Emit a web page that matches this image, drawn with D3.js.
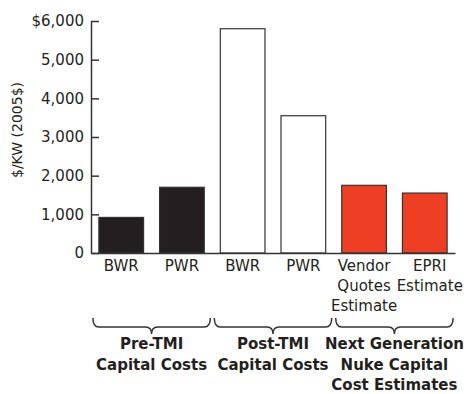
<!DOCTYPE html>
<html>
<head>
<meta charset="utf-8">
<script src="https://cdn.jsdelivr.net/npm/d3@7"></script>
<style>
  html, body { margin: 0; padding: 0; background: #fff; }
  svg { display: block; }
  text { font-family: "DejaVu Sans", "Liberation Sans", sans-serif; fill: #231f20; }
</style>
</head>
<body>
<svg id="chart" width="466" height="394"></svg>
<script>
// ---- data ----
const categories = ["Pre-TMI BWR", "Pre-TMI PWR", "Post-TMI BWR", "Post-TMI PWR", "Vendor Quotes Estimate", "EPRI Estimate"];
const categoryLabels = [["BWR"], ["PWR"], ["BWR"], ["PWR"], ["Vendor", "Quotes", "Estimate"], ["EPRI", "Estimate"]];
const values = [920, 1700, 5800, 3550, 1750, 1550];
const barGroup = [0, 0, 1, 1, 2, 2];
const groupLabels = [["Pre-TMI", "Capital Costs"], ["Post-TMI", "Capital Costs"], ["Next Generation", "Nuke Capital", "Cost Estimates"]];
const tickValues = [0, 1000, 2000, 3000, 4000, 5000, 6000];
const yTitle = "$/KW (2005$)";

// ---- styles ----
const groupFill = ["#231f20", "#ffffff", "#ee3e23"];
const ink = "#333333";

const svg = d3.select("#chart");
const plotLeft = 91, plotRight = 455, plotTop = 21, plotBase = 253;

const x = d3.scaleBand().domain(categories).range([plotLeft, plotRight]).paddingInner(0.264).paddingOuter(0.13);
const y = d3.scaleLinear().domain([0, 6000]).range([plotBase, plotTop]);

// bars
svg.append("g").selectAll("rect").data(values).join("rect")
  .attr("x", (d, i) => x(categories[i]))
  .attr("y", d => y(d))
  .attr("width", x.bandwidth())
  .attr("height", d => y(0) - y(d))
  .attr("fill", (d, i) => groupFill[barGroup[i]])
  .attr("stroke", ink)
  .attr("stroke-width", 1.2);

// y axis
const yAxis = d3.axisLeft(y).tickValues(tickValues).tickSizeInner(-8).tickSizeOuter(0).tickPadding(7)
  .tickFormat(d => d === 6000 ? "$" + d3.format(",")(d) : d3.format(",")(d));
const gy = svg.append("g").attr("transform", `translate(${plotLeft},0)`).call(yAxis);
gy.attr("font-family", null).attr("font-size", null);
gy.selectAll("path, line").attr("stroke", ink).attr("stroke-width", 1.5);
gy.selectAll("text").attr("font-size", 15).attr("fill", "#231f20");

// x axis baseline
const xAxis = d3.axisBottom(x).tickSize(0).tickSizeOuter(0).tickFormat("");
const gx = svg.append("g").attr("transform", `translate(0,${plotBase})`).call(xAxis);
gx.selectAll("path").attr("stroke", ink).attr("stroke-width", 1.5);

// category labels
const lineH = 20;
const catG = svg.append("g").attr("font-size", 15).attr("text-anchor", "middle");
categoryLabels.forEach((lines, i) => {
  const cx = x(categories[i]) + x.bandwidth() / 2 + (i === 5 ? 5 : 0);
  const t = catG.append("text").attr("x", cx).attr("y", plotBase + 17.5);
  lines.forEach((ln, j) => t.append("tspan").attr("x", cx).attr("dy", j === 0 ? 0 : lineH).text(ln));
});

// braces + group labels
const braceG = svg.append("g");
groupLabels.forEach((lines, g) => {
  const idx = categories.filter((c, i) => barGroup[i] === g);
  const x0 = x(idx[0]) - 6;
  const x1 = x(idx[idx.length - 1]) + x.bandwidth() + 6;
  const xm = (x0 + x1) / 2;
  const y0 = 318, y1 = 327, y2 = 334, r = 6;
  const p = d3.path();
  p.moveTo(x0, y0);
  p.quadraticCurveTo(x0, y1, x0 + r, y1);
  p.lineTo(xm - r, y1);
  p.quadraticCurveTo(xm, y1, xm, y2);
  p.quadraticCurveTo(xm, y1, xm + r, y1);
  p.lineTo(x1 - r, y1);
  p.quadraticCurveTo(x1, y1, x1, y0);
  braceG.append("path").attr("d", p.toString()).attr("fill", "none").attr("stroke", ink).attr("stroke-width", 1.5);
  const t = braceG.append("text").attr("x", xm).attr("y", 349).attr("text-anchor", "middle")
    .attr("font-size", 15).attr("font-weight", "bold");
  lines.forEach((ln, j) => t.append("tspan").attr("x", xm).attr("dy", j === 0 ? 0 : 20.5).text(ln));
});

// y title
svg.append("text")
  .attr("transform", `translate(22,130) rotate(-90)`)
  .attr("text-anchor", "middle")
  .attr("font-size", 14)
  .text(yTitle);
</script>
</body>
</html>
